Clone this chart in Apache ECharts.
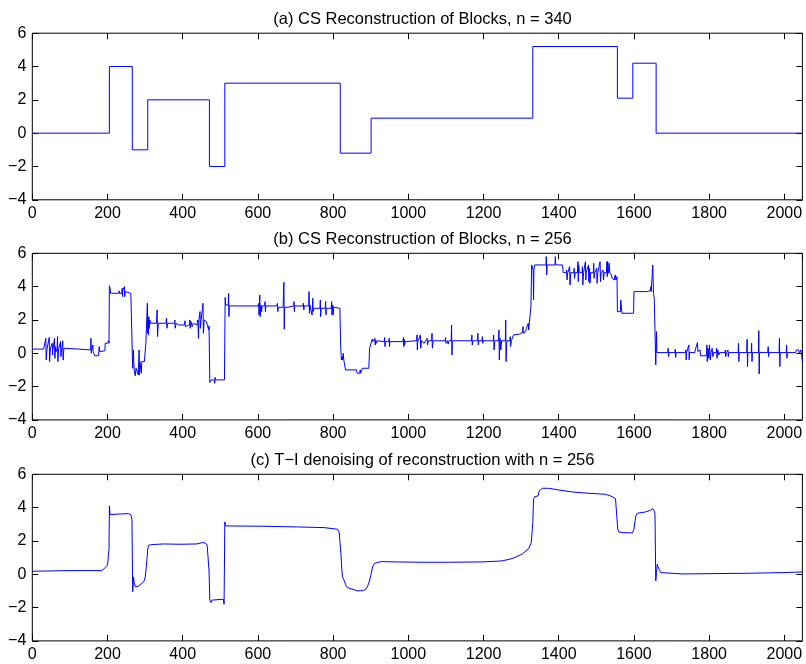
<!DOCTYPE html>
<html>
<head>
<meta charset="utf-8">
<script src="https://cdn.jsdelivr.net/npm/echarts@6/dist/echarts.min.js"></script>
<style>
html,body{margin:0;padding:0;background:#fff;}
#chart{width:806px;height:664px;}
</style>
</head>
<body>
<div id="chart"></div>
<script>
// ---------- DATA ----------
var titles = [
  '(a) CS Reconstruction of Blocks, n = 340',
  '(b) CS Reconstruction of Blocks, n = 256',
  '(c) T\u2212I denoising of reconstruction with n = 256'
];
var xTickValues = [0,200,400,600,800,1000,1200,1400,1600,1800,2000];
var yTickValues = [-4,-2,0,2,4,6];

// (a) piecewise constant: block start positions and levels
var blockStarts = [0,205,266,307,471,512,819,901,1331,1556,1597,1659,2048];
var blockLevels = [0,4,-1,2,-2,3,-1.2,0.9,5.2,2.1,4.2,0,0];

// (b) noisy reconstruction, points [x, y]
var reconB = [
[0,0.25],[30,0.25],[34,0.25],[36,0.9],[37,-0.4],[39,0.25],[44,0.25],[45,0.95],[46,-0.5],[48,0.25],[52,0.25],[53,0.6],[54,-0.1],[55,0.25],[58,0.25],[59,0.9],[60,-0.3],[62,0.4],[63,0.1],[66,0.25],[67,1.0],[68,-0.5],[70,0.25],[74,0.25],[75,0.7],[76,-0.2],[78,0.25],[80,0.25],[81,0.75],[82,-0.4],[84,0.3],[86,0.2],[87,0.25],
[125,0.25],[126,0.2],[155,0.2],[156,0.9],[157,0.0],[158,0.2],[160,0.2],[161,0.5],[162,0.1],[165,0.05],[166,-0.15],[176,-0.15],[177,0.1],[178,0.4],[179,0.1],[182,0.15],[193,0.15],[194,0.6],[200,0.6],[201,0.7],[203,0.75],
[204,0.6],[205,4.05],[207,3.9],[208,3.6],[230,3.6],[231,3.75],[232,3.6],[238,3.6],[239,3.9],[240,3.4],[241,3.8],[243,3.7],[245,4.0],[246,3.4],[247,3.7],[249,3.6],[262,3.6],[263,3.5],[266,3.5],
[267,-0.9],[268,-1.0],[269,0.2],[270,-0.6],[272,-1.2],[274,-1.35],[276,-0.9],[278,-1.0],[280,-1.0],[282,-1.3],[284,0.2],[285,-1.3],[286,-0.5],[288,-0.5],[290,-1.2],[291,-0.5],[298,-0.5],[300,-0.4],[302,0.6],[304,0.7],[306,3.0],[307,1.2],[308,2.0],[309,1.1],[310,2.2],[311,1.5],[313,2.0],[314,1.8],
[330,1.8],[332,2.6],[333,1.0],[335,1.8],[355,1.8],[357,2.1],[358,1.5],[360,1.8],[378,1.8],[379,2.0],[380,1.5],[382,1.8],[386,1.8],[388,1.7],[405,1.7],[406,1.95],[407,1.6],[409,1.7],[418,1.7],[419,2.0],[420,1.5],[422,1.9],[425,1.6],[428,1.8],[432,1.7],[438,1.7],[440,2.0],[442,0.9],[443,2.0],[446,2.5],[447,1.5],[449,2.0],[452,2.0],[454,3.0],[455,1.2],[457,2.0],[462,2.0],[463,1.9],[466,1.65],[468,1.65],[469,1.4],[470,1.65],[471,1.65],
[472,-1.75],[475,-1.75],[476,-1.6],[484,-1.6],[485,-1.8],[486,-1.45],[487,-1.6],[511,-1.6],
[513,3.35],[514,2.9],[516,2.8],[518,3.0],[519,2.8],[521,2.9],[522,3.6],[523,2.2],[524,2.85],[540,2.84],[600,2.84],[602,3.0],[603,2.3],[605,3.5],[606,2.2],[608,2.9],[610,2.5],[611,2.84],[618,2.84],[619,3.1],[620,2.5],[621,2.84],[650,2.84],[652,3.0],[653,2.5],[654,2.76],[667,2.76],[669,4.26],[670,1.44],[671,2.76],[680,2.76],[681,2.84],[695,2.84],[696,3.1],[697,2.5],[698,2.84],[720,2.84],[721,3.0],[722,2.6],[723,2.84],[735,2.84],[736,3.7],[737,2.4],[738,2.9],[742,2.9],[744,2.3],[746,3.3],[747,2.5],[749,2.7],[765,2.7],[766,3.2],[767,2.2],[768,2.7],[779,2.7],[780,3.1],[781,2.3],[782,2.7],[795,2.7],[796,3.1],[797,2.3],[799,2.9],[800,2.3],[801,2.76],[818,2.7],
[820,0.5],[822,-0.4],[824,-0.2],[825,-0.4],[827,0.0],[828,-0.35],[830,-0.35],[833,-1.0],[862,-1.0],[864,-1.2],[871,-1.2],[872,-1.0],[873,-1.2],[877,-1.2],[878,-0.9],[895,-0.9],[897,0.3],[902,0.3],[904,0.84],
[906,0.7],[910,0.7],[911,0.9],[912,0.5],[913,0.8],[915,0.6],[917,0.75],[920,0.7],[936,0.7],[937,0.95],[938,0.4],[939,0.7],[948,0.7],[949,0.9],[950,0.4],[951,0.7],[986,0.7],[987,0.95],[988,0.4],[989,0.85],[990,0.5],[992,0.7],[994,0.6],[996,0.75],[1022,0.75],[1023,1.1],[1024,0.2],[1025,0.7],[1030,0.7],[1032,1.1],[1033,0.3],[1035,0.75],[1040,0.8],[1042,0.6],[1046,0.75],[1050,0.9],[1051,0.5],[1053,0.75],[1062,0.75],[1063,1.2],[1064,0.3],[1066,0.75],[1098,0.75],[1099,0.95],[1100,0.6],[1104,0.75],[1106,0.55],[1108,0.75],[1114,0.75],[1115,1.7],[1116,-0.1],[1117,0.75],[1168,0.75],[1169,1.1],[1170,0.5],[1172,0.75],[1184,0.75],[1185,1.2],[1186,0.5],[1188,0.75],[1196,0.75],[1197,1.0],[1198,0.6],[1199,0.75],[1226,0.75],[1227,1.1],[1228,0.2],[1230,0.75],[1240,0.75],[1241,1.4],[1242,-0.4],[1244,0.9],[1246,0.2],[1248,0.75],[1258,0.75],[1259,2.0],[1260,-0.5],[1262,0.75],[1270,0.75],[1271,1.0],[1272,0.4],[1274,0.75],[1278,0.75],[1280,1.1],[1296,1.15],[1298,1.25],[1304,1.25],[1305,1.6],[1306,1.2],[1312,1.3],[1314,1.5],[1318,1.5],[1319,1.8],[1320,1.4],[1324,1.5],[1326,2.8],[1328,5.3],
[1330,5.3],[1332,5.0],[1333,3.2],[1334,5.0],[1336,5.3],[1366,5.3],[1367,5.8],[1368,4.7],[1369,5.3],[1390,5.3],[1391,5.8],[1392,5.3],[1410,5.3],[1412,4.84],
[1420,4.84],[1421,5.0],[1422,4.4],[1424,4.84],[1428,4.84],[1429,5.2],[1430,4.1],[1432,4.84],[1440,4.84],[1441,5.1],[1442,4.5],[1444,4.84],[1450,4.84],[1451,5.5],[1452,4.3],[1453,5.3],[1455,4.84],[1462,4.84],[1463,5.2],[1464,4.1],[1466,4.84],[1470,4.84],[1471,5.5],[1472,4.4],[1473,4.84],[1478,4.84],[1479,5.3],[1480,4.3],[1482,5.1],[1483,4.2],[1485,4.84],[1492,4.84],[1493,5.4],[1494,4.5],[1496,4.84],[1500,4.84],[1501,5.1],[1502,4.2],[1504,4.84],[1509,4.84],[1510,5.5],[1511,4.3],[1513,4.84],[1517,4.84],[1518,5.0],[1519,4.4],[1521,4.84],[1527,4.84],[1528,5.5],[1529,4.6],[1530,5.5],[1532,4.8],[1534,5.4],[1536,4.84],[1540,4.7],[1542,4.5],[1546,4.5],[1548,4.4],[1550,4.7],[1552,4.4],[1554,4.5],[1555,4.6],
[1556,2.5],[1564,2.5],[1565,3.2],[1567,3.2],[1568,2.4],[1599,2.4],[1600,3.7],[1634,3.7],[1636,3.76],[1644,3.76],[1645,4.0],[1646,3.7],[1648,3.8],[1650,5.3],[1652,3.6],[1654,3.3],[1657,3.2],[1658,-0.7],[1660,1.3],[1661,0.04],
[1690,0.04],[1691,0.3],[1692,-0.2],[1693,0.04],[1709,0.04],[1710,0.25],[1711,-0.25],[1712,0.04],[1737,0.04],[1738,0.2],[1739,-0.4],[1740,0.04],[1745,0.04],[1746,0.5],[1747,-0.4],[1748,0.04],[1762,0.04],[1763,0.2],[1768,0.2],[1769,0.64],[1770,0.1],[1772,0.2],[1776,0.2],[1777,-0.15],[1793,-0.15],[1794,0.5],[1795,-0.5],[1797,0.3],[1799,-0.3],[1801,0.5],[1803,-0.4],[1805,0.04],[1808,0.3],[1810,-0.2],[1812,0.04],[1819,0.04],[1820,0.3],[1821,-0.3],[1823,0.2],[1826,-0.1],[1828,0.04],[1842,0.04],[1843,0.2],[1844,-0.2],[1846,0.04],[1850,0.2],[1851,-0.2],[1852,0.04],[1877,0.04],[1878,0.6],[1879,-0.5],[1880,0.04],[1900,0.04],[1901,0.84],[1902,-0.8],[1903,0.04],[1912,0.04],[1913,0.6],[1914,-0.5],[1915,0.04],[1931,0.04],[1932,1.36],[1933,-1.24],[1934,0.04],[1956,0.04],[1957,0.4],[1958,-0.2],[1959,0.04],[1986,0.04],[1987,0.9],[1988,-0.8],[1989,0.04],[2005,0.04],[2006,0.5],[2007,-0.3],[2008,0.04],[2030,0.04],[2032,0.2],[2038,0.2],[2040,0.0],[2044,0.2],[2046,-0.1],[2048,-0.5]
];

// (c) T-I denoised reconstruction, points [x, y]
var denoisedC = [
[0,0.18],[100,0.22],[185,0.22],[194,0.4],[200,0.55],[203,0.64],[204,1.5],[205,4.1],[207,3.58],[234,3.62],[256,3.64],[262,3.58],[265,3.3],[267,-1.05],[269,-0.16],[271,-0.5],[274,-0.76],[283,-0.7],[296,-0.46],[300,-0.22],[303,0.4],[305,0.94],[307,1.5],[309,1.74],[318,1.78],[349,1.82],[394,1.8],[438,1.82],[452,1.9],[460,1.88],[465,1.75],[467,1.64],[470,0.2],[472,-1.56],[475,-1.7],[478,-1.55],[481,-1.5],[508,-1.5],[510,-1.8],[512,3.14],[514,2.9],[516,2.88],[527,2.9],[616,2.88],[705,2.84],[776,2.8],[812,2.7],[816,2.54],[818,2.0],[821,1.14],[823,0.3],[825,-0.16],[830,-0.4],[834,-0.66],[838,-0.8],[843,-0.9],[865,-1.0],[880,-0.98],[887,-0.9],[892,-0.7],[896,-0.46],[900,-0.1],[905,0.44],[910,0.65],[914,0.74],[927,0.76],[972,0.74],[1034,0.72],[1107,0.72],[1196,0.74],[1249,0.8],[1276,0.94],[1302,1.2],[1320,1.54],[1327,1.9],[1329,2.5],[1331,3.1],[1333,4.5],[1336,4.66],[1340,4.56],[1345,4.7],[1348,5.0],[1352,5.12],[1356,5.16],[1373,5.16],[1400,5.06],[1436,4.94],[1480,4.86],[1524,4.8],[1538,4.7],[1551,4.54],[1556,4.6],[1557,2.7],[1560,2.54],[1564,2.6],[1573,2.5],[1596,2.48],[1600,2.7],[1603,3.2],[1605,3.5],[1609,3.66],[1631,3.74],[1644,3.84],[1650,3.94],[1654,3.8],[1656,3.6],[1657,3.5],[1658,-0.4],[1660,0.1],[1662,0.6],[1664,0.45],[1667,0.3],[1671,0.1],[1676,0.04],[1729,0.02],[1818,0.04],[1907,0.06],[1996,0.1],[2048,0.14]
];

// ---------- CHART ----------
var FONT = '"Liberation Sans", Arial, Helvetica, sans-serif';
var gridTops = [33.2, 253.3, 474.3];
var gridH = 166.6;
var xMax = 2048;

function fmtY(v){ return v < 0 ? '\u2212' + Math.abs(v) : String(v); }
function fmtX(v){ return xTickValues.indexOf(v) >= 0 ? String(v) : ''; }

var panelA = blockStarts.map(function(x, i){ return [x, blockLevels[i]]; });
var seriesData = [panelA, reconB, denoisedC];

var option = {
  backgroundColor: '#ffffff',
  animation: false,
  title: [], grid: [], xAxis: [], yAxis: [], series: []
};

for (var i = 0; i < 3; i++) {
  option.title.push({
    text: titles[i], left: 417.5, top: gridTops[i] - 27, textAlign: 'center',
    textStyle: { fontFamily: FONT, fontSize: 16.5, fontWeight: 'normal', color: '#000' }
  });
  option.grid.push({
    left: 32.3, right: 3.6, top: gridTops[i], height: gridH,
    show: true, borderColor: '#000', borderWidth: 1, backgroundColor: '#fff'
  });
  var tick = { show: true, inside: true, length: 6, lineStyle: { color: '#000', width: 1 } };
  var noLine = { show: false, onZero: false };
  option.xAxis.push({
    type: 'value', gridIndex: i, position: 'bottom', min: 0, max: xMax, interval: 200,
    axisLine: noLine, splitLine: { show: false }, axisTick: tick,
    axisLabel: { show: true, margin: 6, color: '#000', fontFamily: FONT, fontSize: 16, formatter: fmtX, showMaxLabel: false }
  });
  option.xAxis.push({
    type: 'value', gridIndex: i, position: 'top', min: 0, max: xMax, interval: 200,
    axisLine: noLine, splitLine: { show: false }, axisTick: tick,
    axisLabel: { show: false }
  });
  option.yAxis.push({
    type: 'value', gridIndex: i, position: 'left', min: -4, max: 6, interval: 2,
    axisLine: noLine, splitLine: { show: false }, axisTick: tick,
    axisLabel: { show: true, margin: 6, color: '#000', fontFamily: FONT, fontSize: 16, formatter: fmtY }
  });
  option.yAxis.push({
    type: 'value', gridIndex: i, position: 'right', min: -4, max: 6, interval: 2,
    axisLine: noLine, splitLine: { show: false }, axisTick: tick,
    axisLabel: { show: false }
  });
  option.series.push({
    type: 'line', xAxisIndex: 2 * i, yAxisIndex: 2 * i,
    data: seriesData[i], step: i === 0 ? 'end' : false,
    showSymbol: false, symbol: 'none', silent: true,
    lineStyle: { color: '#0000ff', width: 1 },
    clip: true
  });
}

var chart = echarts.init(document.getElementById('chart'), null, { renderer: 'canvas' });
chart.setOption(option);
</script>
</body>
</html>
